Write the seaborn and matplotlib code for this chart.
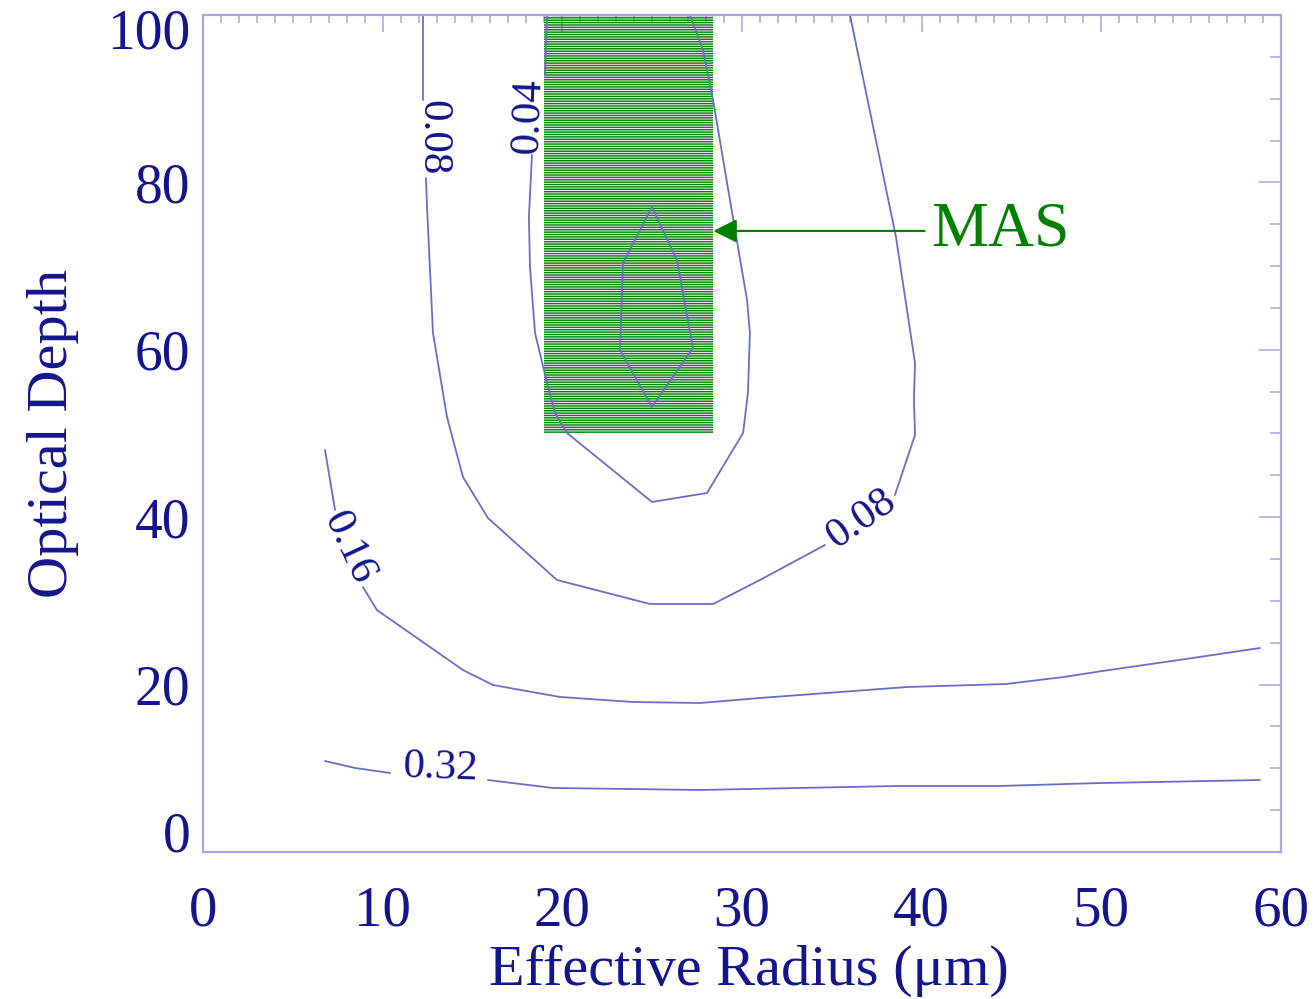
import numpy as np
import pandas as pd
import matplotlib
matplotlib.use("Agg")
import matplotlib.pyplot as plt
from matplotlib.patches import Rectangle
from matplotlib.ticker import MultipleLocator
from matplotlib.transforms import ScaledTranslation
import seaborn as sns

# ---- contour lines of retrieval uncertainty (effective radius in um, optical depth) ----
# each level is split into pieces where its inline label sits
r_032_a = [6.79, 8.46, 10.41]
t_032_a = [10.87, 10.04, 9.44]
r_032_b = [15.86, 19.48, 27.66, 38.79, 44.36, 49.93, 58.83]
t_032_b = [8.60, 7.65, 7.41, 7.89, 7.89, 8.24, 8.60]

r_016_a = [6.79, 7.35]
t_016_a = [48.03, 40.86]
r_016_b = [8.90, 9.68, 14.47, 16.14, 19.87, 23.93, 27.66, 31.00, 39.18, 44.69, 47.92, 50.04, 54.32, 58.83]
t_016_b = [31.66, 28.91, 21.74, 19.95, 18.52, 17.92, 17.80, 18.40, 19.71, 20.07, 20.91, 21.62, 22.94, 24.37]

r_008_a = [12.24, 12.24]
t_008_a = [100.0, 89.84]
r_008_b = [12.41, 12.47, 12.80, 13.58, 14.47, 15.86, 19.70, 24.88, 28.39, 31.00, 34.62]
t_008_b = [80.53, 77.06, 62.01, 51.97, 44.80, 39.90, 32.50, 29.63, 29.63, 32.50, 36.68]
r_008_c = [38.51, 39.63, 39.57, 39.63, 38.57, 36.01]
t_008_c = [42.65, 49.82, 54.00, 58.42, 73.48, 100.0]

r_004_a = [19.15, 19.03]
t_004_a = [100.0, 92.83]
r_004_b = [18.31, 18.14, 18.20, 18.48, 19.15, 19.59, 20.26, 24.99, 28.05, 30.06, 30.33,
           30.44, 30.28, 29.33, 28.39, 27.83, 27.10]
t_004_b = [83.27, 75.87, 69.89, 62.01, 56.03, 52.45, 50.06, 41.82, 42.89, 50.06, 54.84,
           62.01, 65.95, 77.90, 89.84, 95.82, 100.0]

r_inner = [24.99, 23.38, 23.21, 24.99, 27.27, 26.38, 24.99]
t_inner = [77.06, 70.37, 59.98, 53.17, 60.22, 70.73, 77.06]

# inline contour labels: text, radius, optical depth, rotation (deg)
label_text = ["0.32", "0.16", "0.08", "0.08", "0.04"]
label_r = [13.19, 8.13, 12.80, 36.62, 18.14]
label_t = [10.00, 36.30, 85.30, 39.78, 87.93]
label_rot = [-2, -65, -90, 35, 88]

# MAS sampling region
mas_r = [19.0, 28.4]
mas_t = [50.0, 100.0]
mas_arrow_t = 74.2
mas_text_r = 40.5

x_ticks = [0, 10, 20, 30, 40, 50, 60]
y_ticks = [0, 20, 40, 60, 80, 100]

NAVY = "#14148c"
FRAME = "#a6a6e0"
LINE = "#6c6cc8"
GREEN = "#008000"

sns.set_theme(style="white")
plt.rcParams["font.family"] = ["Liberation Serif", "DejaVu Serif"]
plt.rcParams["hatch.linewidth"] = 1.05

fig = plt.figure(figsize=(13.15, 9.99), dpi=100)
ax = fig.add_axes([0.15437, 0.14715, 0.81977, 0.83784])

pieces = [
    ("032a", r_032_a, t_032_a), ("032b", r_032_b, t_032_b),
    ("016a", r_016_a, t_016_a), ("016b", r_016_b, t_016_b),
    ("008a", r_008_a, t_008_a), ("008b", r_008_b, t_008_b), ("008c", r_008_c, t_008_c),
    ("004a", r_004_a, t_004_a), ("004b", r_004_b, t_004_b),
    ("inner", r_inner, t_inner),
]
df = pd.concat(
    [pd.DataFrame({"radius": r, "tau": t, "piece": name, "order": np.arange(len(r))})
     for name, r, t in pieces],
    ignore_index=True,
)

# hatched MAS box
ax.add_patch(Rectangle((mas_r[0], mas_t[0]), mas_r[1] - mas_r[0], mas_t[1] - mas_t[0],
                       facecolor="none", edgecolor=GREEN, linewidth=0,
                       hatch="-------", zorder=1))

sns.lineplot(data=df, x="radius", y="tau", units="piece", estimator=None, sort=False,
             color=LINE, linewidth=1.3, ax=ax, legend=False, zorder=2)

for txt, r, t, rot in zip(label_text, label_r, label_t, label_rot):
    ax.text(r, t, txt, rotation=rot, rotation_mode="anchor", ha="center", va="center",
            fontsize=31, color=NAVY, zorder=3)

ax.annotate("MAS", xy=(mas_r[1], mas_arrow_t), xytext=(mas_text_r, mas_arrow_t),
            ha="left", va="center", fontsize=46, color=GREEN,
            arrowprops=dict(arrowstyle="-|>,head_length=0.72,head_width=0.36",
                            mutation_scale=20, color=GREEN, lw=1.6,
                            shrinkA=2, shrinkB=0))

ax.set_xlim(0, 60)
ax.set_ylim(0, 100)
ax.set_xticks(x_ticks)
ax.set_yticks(y_ticks)
ax.set_xticklabels([str(v) for v in x_ticks])
ax.set_yticklabels([str(v) for v in y_ticks])
ax.xaxis.set_minor_locator(MultipleLocator(1))
ax.yaxis.set_minor_locator(MultipleLocator(5))

ax.tick_params(which="both", direction="in", top=True, right=True, color=FRAME, width=1.1)
ax.tick_params(axis="x", which="major", length=12, labelsize=41, labelcolor=NAVY, pad=24)
ax.tick_params(axis="x", which="minor", length=6)
ax.tick_params(axis="y", which="major", length=16, labelsize=40, labelcolor=NAVY, pad=9)
ax.tick_params(axis="y", which="minor", length=8)

for sp in ax.spines.values():
    sp.set_color(FRAME)
    sp.set_linewidth(1.6)

ax.set_xlabel("Effective Radius (\u03bcm)", fontsize=42, color=NAVY, labelpad=5)
ax.xaxis.label.set_x(0.506)
ax.set_ylabel("Optical Depth", fontsize=42, color=NAVY, labelpad=20)

# end labels of the optical-depth axis sit inside the frame
ylabels = ax.get_yticklabels()
ylabels[0].set_va("baseline")
ylabels[-1].set_va("baseline")
ylabels[-1].set_transform(ylabels[-1].get_transform()
                          + ScaledTranslation(0, -0.34, fig.dpi_scale_trans))

fig.savefig("out.png", dpi=100, facecolor="white")
